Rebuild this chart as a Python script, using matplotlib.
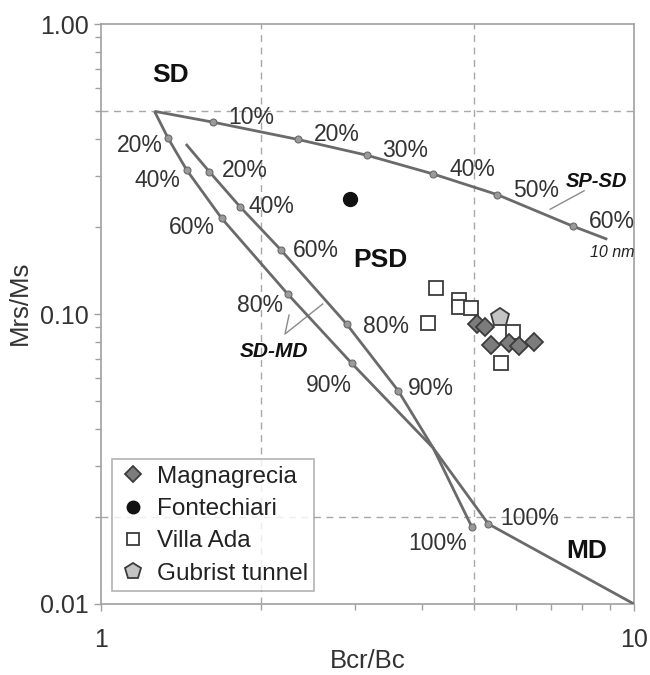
import matplotlib
matplotlib.use("Agg")
import matplotlib.pyplot as plt
from matplotlib.ticker import FixedLocator, FixedFormatter, NullFormatter

plt.rcParams['font.family'] = ['Liberation Sans', 'DejaVu Sans']

# ---------------- data ----------------
# SP-SD mixing curve (10 nm)
spsd_x = [1.26, 1.62, 2.34, 3.15, 4.20, 5.54, 7.67, 8.91]
spsd_y = [0.500, 0.459, 0.400, 0.353, 0.304, 0.258, 0.201, 0.181]
spsd_lab = ['', '10%', '20%', '30%', '40%', '50%', '60%', '']

# SD-MD mixing curve 1 (starts at SD end-member)
sdmd1_x = [1.26, 1.337, 1.448, 1.684, 2.24, 2.954, 4.20, 5.33]
sdmd1_y = [0.500, 0.403, 0.3137, 0.2138, 0.1172, 0.0676, 0.0345, 0.01888]
sdmd1_lab = ['', '20%', '40%', '60%', '80%', '90%', '', '100%']

# SD-MD mixing curve 2
sdmd2_x = [1.443, 1.597, 1.823, 2.176, 2.89, 3.61, 4.20, 4.96]
sdmd2_y = [0.3857, 0.3095, 0.2344, 0.1662, 0.0923, 0.0544, 0.0345, 0.01848]
sdmd2_lab = ['', '20%', '40%', '60%', '80%', '90%', '', '100%']

# MD trend
md_x = [5.33, 10.0]
md_y = [0.01888, 0.010]

# samples
magna_x = [5.07, 5.25, 5.39, 5.83, 6.08, 6.49]
magna_y = [0.0921, 0.0904, 0.0782, 0.0793, 0.0777, 0.0802]
fonte_x = [2.93]
fonte_y = [0.249]
villa_x = [4.25, 4.11, 4.70, 4.70, 4.94, 5.94, 5.63]
villa_y = [0.1227, 0.0929, 0.1118, 0.1060, 0.1046, 0.0869, 0.0676]
gub_x = [5.61]
gub_y = [0.0979]

x_ticks = [1, 10]
x_tick_labels = ['1', '10']
y_ticks = [0.01, 0.1, 1.0]
y_tick_labels = ['0.01', '0.10', '1.00']

# label offsets (points) and alignment for the percentage annotations
spsd_off = [None, (11.5, -1.4), (11.5, -1.4), (11.5, -1.4), (11.5, -1.4), (11.5, -1.4), (11.5, -1.4), None]
sdmd1_off = [None, (-4.0, -9.6), (-4.8, -12.5), (-4.8, -11.3), (-3.2, -12.7), (0.0, -20.4), None, (8.4, -0.7)]
sdmd1_ha = [None, 'right', 'right', 'right', 'right', 'right', None, 'left']
sdmd2_off = [None, (8.9, -3.6), (6.0, -4.3), (8.9, -4.8), (11.5, -6.7), (7.2, -3.1), None, (-3.2, -16.8)]
sdmd2_ha = [None, 'left', 'left', 'left', 'left', 'left', None, 'right']

# ---------------- figure ----------------
fig = plt.figure(figsize=(6.5, 6.75), dpi=100)
ax = fig.add_axes([0.1554, 0.1052, 0.8200, 0.8592])
ax.set_xscale('log')
ax.set_yscale('log')
ax.set_xlim(1, 10)
ax.set_ylim(0.01, 1.0)

grid_kw = dict(color='#a8a8a8', lw=1.0, ls=(0, (5, 4)), zorder=1)
for gx in (2, 5):
    ax.axvline(gx, **grid_kw)
for gy in (0.5, 0.02):
    ax.axhline(gy, **grid_kw)

line_c = '#6a6a6a'
line_kw = dict(color=line_c, lw=2.0, solid_capstyle='butt', zorder=3)
dot_kw = dict(ls='none', marker='o', ms=5, mfc='#9a9a9a', mec='#6a6a6a', mew=0.8, zorder=4)
pct_kw = dict(fontsize=16.5, color='#333333', va='baseline', textcoords='offset points')


def draw_curve(xs, ys, labs, offs, has):
    ax.plot(xs, ys, **line_kw)
    mx = [x for x, l in zip(xs, labs) if l]
    my = [y for y, l in zip(ys, labs) if l]
    ax.plot(mx, my, **dot_kw)
    for x, y, l, o, h in zip(xs, ys, labs, offs, has):
        if l:
            ax.annotate(l, (x, y), xytext=o, ha=h, **pct_kw)


draw_curve(spsd_x, spsd_y, spsd_lab, spsd_off, ['left'] * len(spsd_x))
draw_curve(sdmd1_x, sdmd1_y, sdmd1_lab, sdmd1_off, sdmd1_ha)
draw_curve(sdmd2_x, sdmd2_y, sdmd2_lab, sdmd2_off, sdmd2_ha)
ax.plot(md_x, md_y, **line_kw)

# leader lines for the curve names
lead_kw = dict(color='#8a8a8a', lw=1.0, zorder=2)
ax.plot([6.96, 8.06], [0.2297, 0.266], **lead_kw)
ax.plot([2.253, 2.214, 2.606], [0.0992, 0.0853, 0.1083], **lead_kw)

# samples
h_villa, = ax.plot(villa_x, villa_y, ls='none', marker='s', ms=10, mfc='white',
                   mec='#3c3c3c', mew=1.3, zorder=5, label='Villa Ada')
h_magna, = ax.plot(magna_x, magna_y, ls='none', marker='D', ms=9.5, mfc='#7c7c7c',
                   mec='#3c3c3c', mew=1.3, zorder=6, label='Magnagrecia')
h_gub, = ax.plot(gub_x, gub_y, ls='none', marker='p', ms=13.5, mfc='#c4c4c4',
                 mec='#3c3c3c', mew=1.3, zorder=7, label='Gubrist tunnel')
h_fonte, = ax.plot(fonte_x, fonte_y, ls='none', marker='o', ms=10, mfc='#111111',
                   mec='#111111', mew=1.0, zorder=7, label='Fontechiari')

# region and curve names
ax.text(1.352, 0.632, 'SD', fontsize=19, fontweight='bold', ha='center', va='baseline', color='#111111')
ax.text(3.345, 0.1452, 'PSD', fontsize=19, fontweight='bold', ha='center', va='baseline', color='#111111')
ax.text(8.15, 0.01437, 'MD', fontsize=19, fontweight='bold', ha='center', va='baseline', color='#111111')
ax.text(8.52, 0.2735, 'SP-SD', fontsize=14.5, fontweight='bold', fontstyle='italic',
        ha='center', va='baseline', color='#111111')
ax.text(9.09, 0.1568, '10 nm', fontsize=11.5, fontstyle='italic', ha='center', va='baseline', color='#222222')
ax.text(2.114, 0.0712, 'SD-MD', fontsize=15, fontweight='bold', fontstyle='italic',
        ha='center', va='baseline', color='#111111')

# axes styling
for s in ax.spines.values():
    s.set_color('#a0a0a0')
    s.set_linewidth(1.2)

ax.xaxis.set_major_locator(FixedLocator(x_ticks))
ax.xaxis.set_major_formatter(FixedFormatter(x_tick_labels))
ax.xaxis.set_minor_formatter(NullFormatter())
ax.yaxis.set_major_locator(FixedLocator(y_ticks))
ax.yaxis.set_major_formatter(FixedFormatter(y_tick_labels))
ax.yaxis.set_minor_formatter(NullFormatter())
ax.tick_params(axis='both', which='both', direction='out', color='#a0a0a0', width=1.0,
               labelcolor='#333333', labelsize=18)
ax.tick_params(axis='both', which='major', length=5)
ax.tick_params(axis='both', which='minor', length=4)
ax.tick_params(axis='x', which='major', pad=12)
ax.tick_params(axis='y', which='major', pad=4)

ax.set_xlabel('Bcr/Bc', fontsize=18.5, color='#333333', va='baseline')
ax.xaxis.set_label_coords(0.5, -0.1103)
ax.set_ylabel('Mrs/Ms', fontsize=18.5, color='#333333', va='center')
ax.yaxis.set_label_coords(-0.152, 0.52)

leg = ax.legend(handles=[h_magna, h_fonte, h_villa, h_gub],
                loc='lower left', bbox_to_anchor=(0.1723, 0.1244), bbox_transform=fig.transFigure,
                borderaxespad=0, fontsize=17.5, frameon=True, fancybox=False,
                handlelength=1.2, handletextpad=0.4, labelspacing=0.43, borderpad=0.25,
                markerscale=0.9)
leg.get_frame().set_edgecolor('#a0a0a0')
leg.get_frame().set_linewidth(1.2)
leg.set_zorder(10)
for t in leg.get_texts():
    t.set_color('#222222')

fig.savefig('out.png', dpi=100)
